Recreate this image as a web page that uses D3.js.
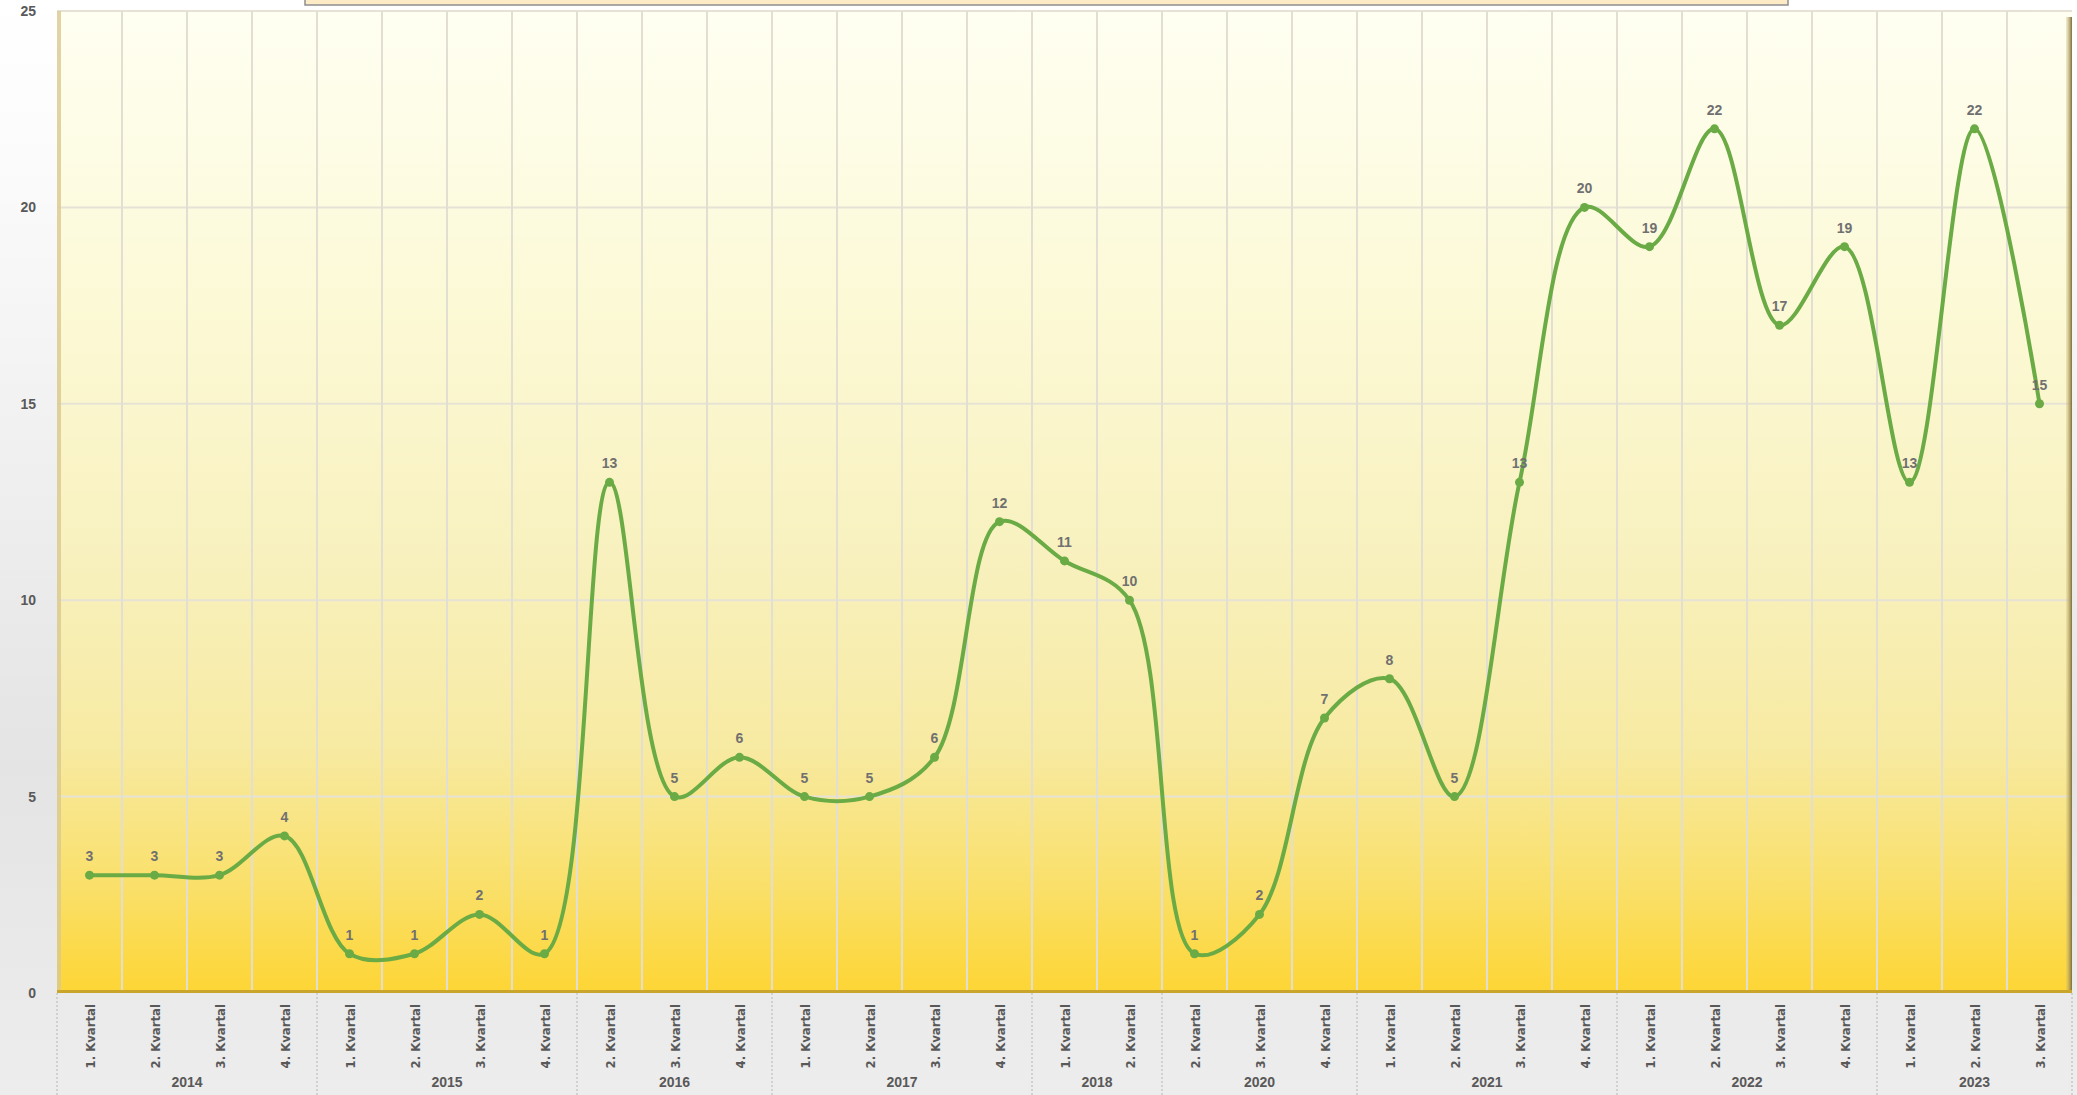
<!DOCTYPE html>
<html><head><meta charset="utf-8">
<script src="https://cdn.jsdelivr.net/npm/d3@7"></script>
<style>html,body{margin:0;padding:0;overflow:hidden;background:#fff}</style>
</head><body>
<svg id="c" width="2077" height="1095"></svg>
<script>
const years = ["2014","2014","2014","2014","2015","2015","2015","2015","2016","2016","2016","2017","2017","2017","2017","2018","2018","2020","2020","2020","2021","2021","2021","2021","2022","2022","2022","2022","2023","2023","2023"];
const quarters = ["1. Kvartal","2. Kvartal","3. Kvartal","4. Kvartal","1. Kvartal","2. Kvartal","3. Kvartal","4. Kvartal","2. Kvartal","3. Kvartal","4. Kvartal","1. Kvartal","2. Kvartal","3. Kvartal","4. Kvartal","1. Kvartal","2. Kvartal","2. Kvartal","3. Kvartal","4. Kvartal","1. Kvartal","2. Kvartal","3. Kvartal","4. Kvartal","1. Kvartal","2. Kvartal","3. Kvartal","4. Kvartal","1. Kvartal","2. Kvartal","3. Kvartal"];
const values = [3,3,3,4,1,1,2,1,13,5,6,5,5,6,12,11,10,1,2,7,8,5,13,20,19,22,17,19,13,22,15];
const yTicks = [0,5,10,15,20,25];

const W = 2077, H = 1095;
const L = 57, R = 2072, T = 11, B = 993;
const svg = d3.select("#c");
const defs = svg.append("defs");

const bg = defs.append("linearGradient").attr("id","bg").attr("x1",0).attr("y1",0).attr("x2",0).attr("y2",1);
bg.append("stop").attr("offset","0").attr("stop-color","#ffffff");
bg.append("stop").attr("offset","0.15").attr("stop-color","#fbfbfb");
bg.append("stop").attr("offset","0.7").attr("stop-color","#e4e4e4");
bg.append("stop").attr("offset","1").attr("stop-color","#ededed");

const pg = defs.append("linearGradient").attr("id","pg").attr("x1",0).attr("y1",0).attr("x2",0).attr("y2",1);
[[0,"#fffff2"],[0.3,"#fcf9d6"],[0.55,"#f8f1bf"],[0.75,"#f7eaa2"],[0.9,"#fadf66"],[1,"#fdd534"]].forEach(s=>
  pg.append("stop").attr("offset",s[0]).attr("stop-color",s[1]));

const rs = defs.append("linearGradient").attr("id","rs").attr("x1",0).attr("y1",0).attr("x2",1).attr("y2",0);
rs.append("stop").attr("offset","0").attr("stop-color","#d6c27a").attr("stop-opacity",0.3);
rs.append("stop").attr("offset","1").attr("stop-color","#7d6d3a");

svg.append("rect").attr("width",W).attr("height",H).attr("fill","url(#bg)");

const x = d3.scaleBand().domain(d3.range(values.length)).range([L,R]).padding(0);
const y = d3.scaleLinear().domain([0,25]).range([B,T]);

svg.append("rect").attr("x",L).attr("y",T).attr("width",R-L).attr("height",B-T).attr("fill","url(#pg)");

svg.append("rect").attr("x",305).attr("y",-10).attr("width",1483).attr("height",15)
  .attr("fill","#fdebc6").attr("stroke","#8f8f8f").attr("stroke-width",1.5);

const g = svg.append("g");
g.selectAll(".hg").data(yTicks.filter(d=>d>0)).join("line")
  .attr("x1",L).attr("x2",R).attr("y1",d=>y(d)).attr("y2",d=>y(d))
  .attr("stroke","#e6e3d6").attr("stroke-width",2);
g.selectAll(".vg").data(d3.range(1,values.length)).join("line")
  .attr("x1",i=>x(i)).attr("x2",i=>x(i)).attr("y1",T).attr("y2",B)
  .attr("stroke","#e2dfd2").attr("stroke-width",2);

svg.append("rect").attr("x",L).attr("y",T).attr("width",4).attr("height",B-T).attr("fill","#d9c890").attr("opacity",0.8);
svg.append("rect").attr("x",R-6).attr("y",T+6).attr("width",6).attr("height",B-T-6).attr("fill","url(#rs)");
svg.append("rect").attr("x",L).attr("y",B-3).attr("width",R-L).attr("height",3).attr("fill","#c9a52a");

svg.append("g").selectAll("text").data(yTicks).join("text")
  .attr("x",36).attr("y",d=>y(d)+5).attr("text-anchor","end")
  .attr("font-family","Liberation Sans, Arial, sans-serif").attr("font-weight","bold")
  .attr("font-size",14).attr("fill","#595959").text(d=>d);

svg.append("g").selectAll("text").data(quarters).join("text")
  .attr("transform",(d,i)=>`translate(${x(i)+x.bandwidth()/2+5},1004) rotate(-90)`)
  .attr("text-anchor","end")
  .attr("font-family","DejaVu Sans Condensed, Liberation Sans Narrow, Arial Narrow, sans-serif")
  .attr("font-weight","bold").attr("font-size",13).attr("fill","#595959").text(d=>d);

const groups = [];
years.forEach((yr,i)=>{
  if(!groups.length || groups[groups.length-1].yr!==yr) groups.push({yr,start:i,end:i});
  else groups[groups.length-1].end=i;
});
svg.append("g").selectAll("text").data(groups).join("text")
  .attr("x",d=>(x(d.start)+x(d.end)+x.bandwidth())/2).attr("y",1087)
  .attr("text-anchor","middle")
  .attr("font-family","Liberation Sans, Arial, sans-serif").attr("font-weight","bold")
  .attr("font-size",14).attr("fill","#595959").text(d=>d.yr);
const seps = [0].concat(groups.map(d=>d.end+1));
svg.append("g").selectAll("line").data(seps).join("line")
  .attr("x1",i=>i<values.length?x(i):R).attr("x2",i=>i<values.length?x(i):R)
  .attr("y1",B).attr("y2",H)
  .attr("stroke","#c8c8c8").attr("stroke-width",1.5).attr("stroke-dasharray","2,2");

const cx = i=>x(i)+x.bandwidth()/2;
const line = d3.line().x((d,i)=>cx(i)).y(d=>y(d)).curve(d3.curveCatmullRom.alpha(0.5));
svg.append("path").datum(values).attr("d",line).attr("fill","none")
  .attr("stroke","#6aab45").attr("stroke-width",4).attr("stroke-linejoin","round");
svg.append("g").selectAll("circle").data(values).join("circle")
  .attr("cx",(d,i)=>cx(i)).attr("cy",d=>y(d)).attr("r",4.5).attr("fill","#6aab45");

svg.append("g").selectAll("text").data(values).join("text")
  .attr("x",(d,i)=>cx(i)).attr("y",d=>y(d)-14).attr("text-anchor","middle")
  .attr("font-family","Liberation Sans, Arial, sans-serif").attr("font-weight","bold")
  .attr("font-size",14).attr("fill","#707070").text(d=>d);
</script>
</body></html>
